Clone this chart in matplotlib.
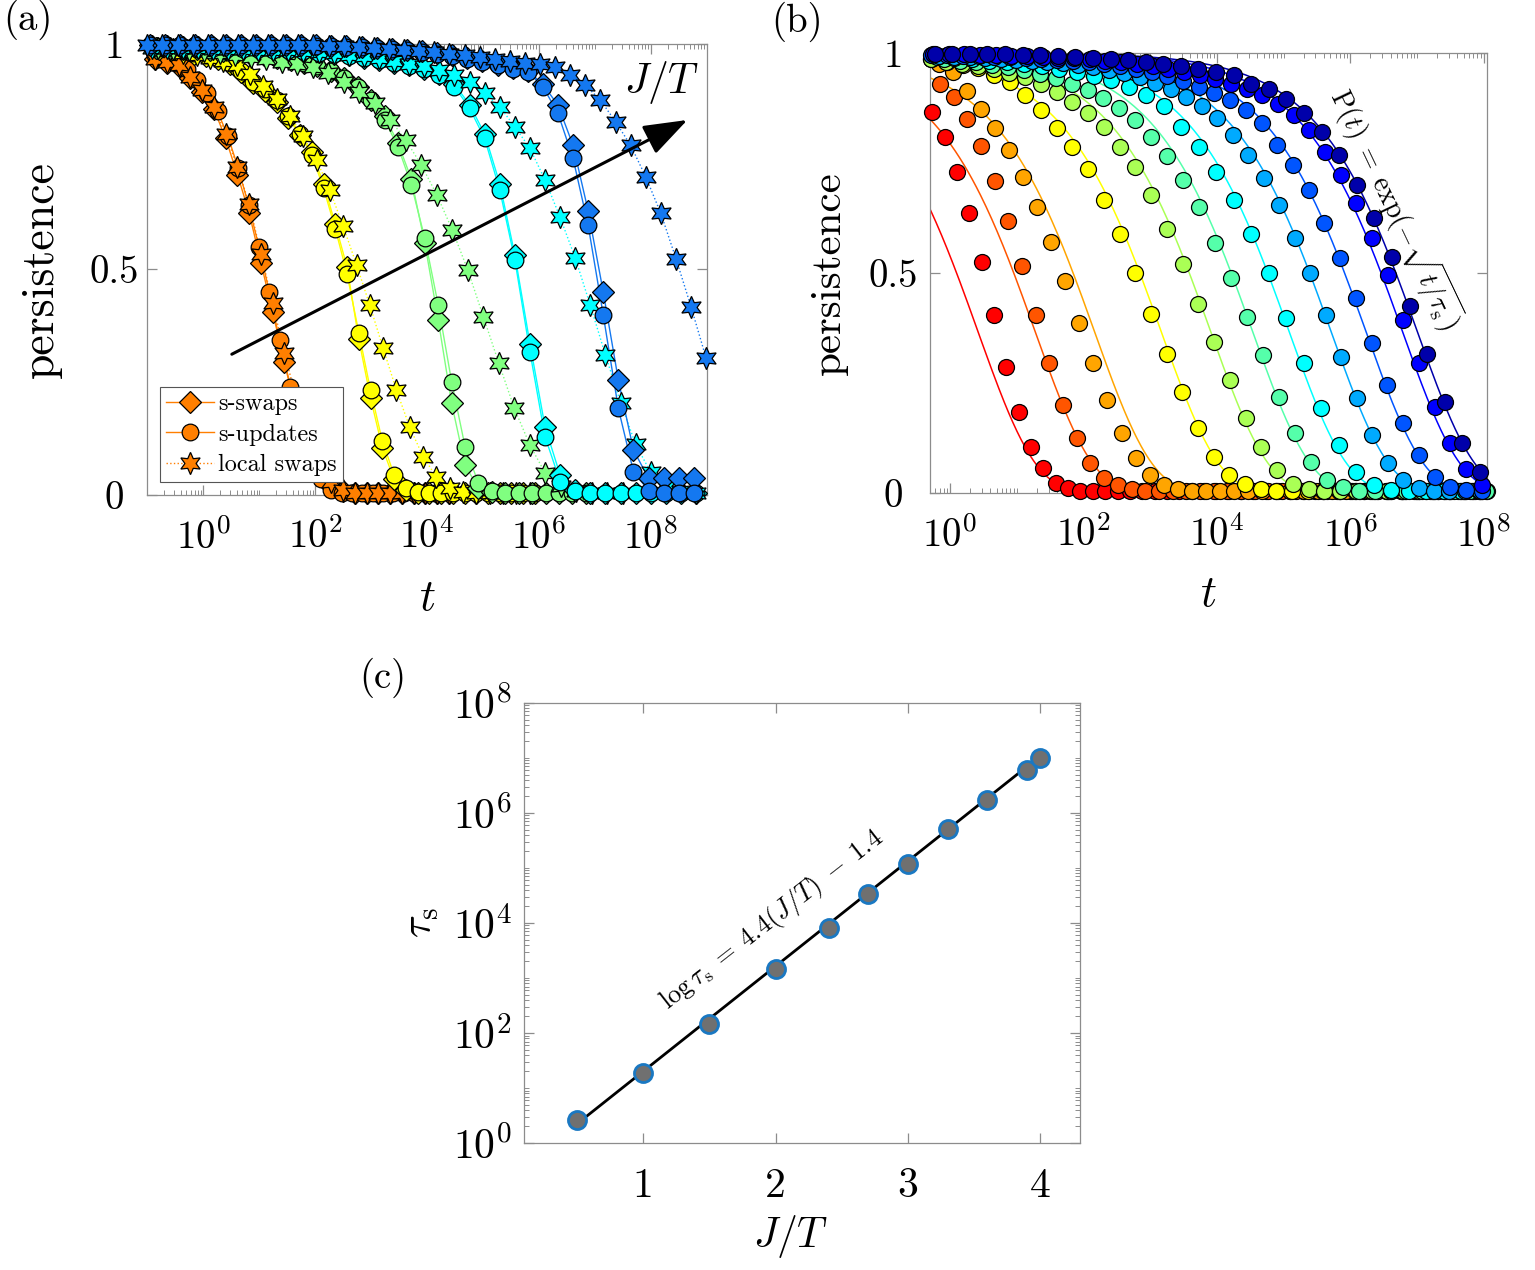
import matplotlib

matplotlib.use("Agg")
import matplotlib.pyplot as plt
import numpy as np
from matplotlib.lines import Line2D
from matplotlib.ticker import FixedLocator, FuncFormatter, LogLocator, NullFormatter

plt.rcParams.update({
    "font.family": "serif",
    "font.serif": ["cmr10", "DejaVu Serif"],
    "mathtext.fontset": "cm",
    "axes.unicode_minus": False,
    "axes.formatter.use_mathtext": True,
})

# ------------------------------------------------------------------
# (a) persistence for three update schemes, five temperatures
# ------------------------------------------------------------------
A_COLORS = ["#ff7f00", "#ffff00", "#80ff80", "#00ffff", "#1478f0"]
# first sampled log10(t) and log10 spacing of every series
A_LOGT0_SW = [-0.86, -0.79, -0.84, -0.91, -0.95]
A_DLOGT_SW = [0.21, 0.21, 0.24, 0.27, 0.27]
A_LOGT0_UP = [-0.855, -0.79, -0.84, -0.91, -0.95]
A_DLOGT_UP = [0.185, 0.21, 0.24, 0.27, 0.27]
A_LOGT0_LS = [-0.86, -0.83, -0.81, -0.91, -1.0]
A_DLOGT_LS = [0.21, 0.238, 0.277, 0.27, 0.27]

P_A_ORANGE_SW = [0.965, 0.958, 0.95, 0.924, 0.893, 0.855, 0.79, 0.71, 0.625, 0.515, 0.405,
                 0.295, 0.195, 0.115, 0.055, 0.02, 0.008] + [0.004] * 9
P_A_ORANGE_UP = [0.975, 0.968, 0.958, 0.943, 0.92, 0.89, 0.85, 0.795, 0.724, 0.642, 0.55,
                 0.45, 0.343, 0.24, 0.15, 0.08, 0.035, 0.012] + [0.005] * 10
P_A_ORANGE_LS = [0.967, 0.96, 0.953, 0.927, 0.897, 0.86, 0.80, 0.727, 0.645, 0.535, 0.425,
                 0.315, 0.215, 0.135, 0.07, 0.03, 0.012] + [0.005] * 9

P_A_YELLOW_SW = [0.988, 0.986, 0.983, 0.978, 0.973, 0.966, 0.956, 0.938, 0.912, 0.895, 0.87,
                 0.835, 0.798, 0.76, 0.69, 0.60, 0.505, 0.345, 0.215, 0.105, 0.035, 0.012,
                 0.005] + [0.004] * 10
P_A_YELLOW_UP = [0.99, 0.988, 0.985, 0.98, 0.975, 0.968, 0.958, 0.94, 0.915, 0.9, 0.875,
                 0.84, 0.80, 0.753, 0.68, 0.59, 0.49, 0.36, 0.232, 0.12, 0.045, 0.015,
                 0.006] + [0.005] * 10
P_A_YELLOW_LS = [0.99, 0.985, 0.98, 0.975, 0.968, 0.962, 0.953, 0.932, 0.907, 0.878, 0.84,
                 0.795, 0.742, 0.675, 0.595, 0.51, 0.42, 0.325, 0.232, 0.15, 0.085, 0.04,
                 0.016, 0.007] + [0.005] * 5

P_A_GREEN_SW = [0.99, 0.99, 0.989, 0.988, 0.986, 0.984, 0.981, 0.978, 0.974, 0.969, 0.963,
                0.957, 0.95, 0.94, 0.925, 0.905, 0.875, 0.84, 0.78, 0.70, 0.558, 0.388,
                0.203, 0.066, 0.015, 0.006] + [0.004] * 7
P_A_GREEN_UP = [0.99, 0.99, 0.989, 0.988, 0.986, 0.984, 0.981, 0.978, 0.974, 0.969, 0.963,
                0.957, 0.95, 0.94, 0.925, 0.905, 0.875, 0.831, 0.772, 0.687, 0.569, 0.421,
                0.251, 0.107, 0.026, 0.008] + [0.005] * 7
P_A_GREEN_LS = [0.99, 0.988, 0.986, 0.983, 0.979, 0.975, 0.97, 0.965, 0.96, 0.955, 0.949,
                0.934, 0.916, 0.893, 0.868, 0.831, 0.786, 0.731, 0.665, 0.587, 0.498, 0.395,
                0.292, 0.192, 0.111, 0.048, 0.02, 0.008] + [0.005] * 3

P_A_CYAN_SW = [0.994, 0.994, 0.993, 0.993, 0.992, 0.991, 0.99, 0.989, 0.988, 0.986, 0.984,
               0.981, 0.978, 0.974, 0.969, 0.964, 0.958, 0.952, 0.945, 0.932, 0.91, 0.865,
               0.80, 0.69, 0.532, 0.335, 0.151, 0.044, 0.012] + [0.005] * 8
P_A_CYAN_UP = [0.993, 0.993, 0.992, 0.992, 0.991, 0.99, 0.989, 0.988, 0.987, 0.985, 0.983,
               0.98, 0.977, 0.973, 0.968, 0.963, 0.957, 0.95, 0.943, 0.93, 0.905, 0.857,
               0.79, 0.676, 0.521, 0.317, 0.129, 0.03, 0.008] + [0.005] * 8
P_A_CYAN_LS = [0.99, 0.99, 0.99, 0.99, 0.989, 0.989, 0.988, 0.987, 0.986, 0.985, 0.983,
               0.981, 0.979, 0.976, 0.972, 0.968, 0.962, 0.956, 0.95, 0.942, 0.93, 0.916,
               0.89, 0.86, 0.816, 0.768, 0.698, 0.615, 0.525, 0.42, 0.31, 0.205, 0.112,
               0.05, 0.02, 0.008, 0.005]

P_A_BLUE_SW = [0.998] * 10 + [0.997, 0.996, 0.995, 0.994, 0.993, 0.991, 0.989, 0.986, 0.983,
                              0.979, 0.974, 0.968, 0.961, 0.953, 0.946, 0.94, 0.91, 0.864,
                              0.775, 0.63, 0.45, 0.255, 0.10, 0.037, 0.037, 0.037, 0.037]
P_A_BLUE_UP = [0.998] * 8 + [0.997, 0.997, 0.996, 0.995, 0.994, 0.993, 0.992, 0.99, 0.988,
                             0.985, 0.982, 0.978, 0.973, 0.967, 0.96, 0.952, 0.945, 0.938,
                             0.905, 0.846, 0.746, 0.598, 0.399, 0.192, 0.052, 0.01, 0.005,
                             0.005, 0.005]
P_A_BLUE_LS = [0.998] * 10 + [0.997, 0.996, 0.995, 0.994, 0.993, 0.991, 0.989, 0.987, 0.984,
                              0.981, 0.978, 0.974, 0.97, 0.966, 0.962, 0.958, 0.954, 0.949,
                              0.93, 0.908, 0.875, 0.827, 0.775, 0.705, 0.624, 0.524, 0.417,
                              0.303]

A_SW = [P_A_ORANGE_SW, P_A_YELLOW_SW, P_A_GREEN_SW, P_A_CYAN_SW, P_A_BLUE_SW]
A_UP = [P_A_ORANGE_UP, P_A_YELLOW_UP, P_A_GREEN_UP, P_A_CYAN_UP, P_A_BLUE_UP]
A_LS = [P_A_ORANGE_LS, P_A_YELLOW_LS, P_A_GREEN_LS, P_A_CYAN_LS, P_A_BLUE_LS]
A_LABELS = ["s-swaps", "s-updates", "local swaps"]

# ------------------------------------------------------------------
# (b) s-updates persistence for eleven J/T values
# ------------------------------------------------------------------
JT = [0.5, 1.0, 1.5, 2.0, 2.4, 2.7, 3.0, 3.3, 3.6, 3.9, 4.0]
B_COLORS = ["#ff0000", "#ff5500", "#ffa500", "#ffff00", "#aaff55", "#55ffaa",
            "#00ffff", "#00aaff", "#0055ff", "#0000ff", "#0000aa"]
B_LOGT0 = [-0.265, -0.15, -0.16, -0.28, -0.29, -0.09, -0.2, -0.17, -0.28, -0.255, -0.23]
B_DLOGT = [0.185, 0.205, 0.21, 0.235, 0.236, 0.239, 0.262, 0.232, 0.2357, 0.235, 0.2636]

P_B_05 = [0.866, 0.808, 0.73, 0.635, 0.525, 0.404, 0.286, 0.184, 0.103, 0.057, 0.023,
          0.01] + [0.004] * 33
P_B_10 = [0.93, 0.90, 0.85, 0.788, 0.708, 0.617, 0.515, 0.405, 0.295, 0.20, 0.124, 0.067,
          0.033, 0.017, 0.008] + [0.004] * 26
P_B_15 = [0.975, 0.957, 0.912, 0.872, 0.83, 0.78, 0.718, 0.649, 0.569, 0.482, 0.385, 0.294,
          0.21, 0.135, 0.078, 0.04, 0.018, 0.008] + [0.004] * 21
P_B_20 = [0.985, 0.978, 0.972, 0.965, 0.95, 0.934, 0.904, 0.87, 0.83, 0.786, 0.735, 0.665,
          0.587, 0.50, 0.406, 0.315, 0.228, 0.148, 0.082, 0.04, 0.02, 0.009] + [0.004] * 14
P_B_24 = [0.985, 0.98, 0.975, 0.97, 0.963, 0.955, 0.945, 0.93, 0.911, 0.889, 0.862, 0.832,
          0.786, 0.741, 0.677, 0.60, 0.519, 0.43, 0.343, 0.256, 0.169, 0.105, 0.052, 0.021,
          0.009] + [0.004] * 11
P_B_27 = [0.985, 0.982, 0.978, 0.973, 0.967, 0.96, 0.952, 0.942, 0.93, 0.915, 0.896, 0.875,
          0.848, 0.809, 0.765, 0.711, 0.65, 0.567, 0.487, 0.40, 0.313, 0.218, 0.135, 0.07,
          0.029, 0.012] + [0.004] * 9
P_B_30 = [0.99, 0.988, 0.985, 0.982, 0.978, 0.974, 0.97, 0.964, 0.957, 0.948, 0.937, 0.922,
          0.903, 0.878, 0.832, 0.786, 0.73, 0.665, 0.588, 0.499, 0.396, 0.294, 0.192, 0.108,
          0.048, 0.018, 0.007] + [0.004] * 5
P_B_33 = [0.992, 0.991, 0.99, 0.988, 0.986, 0.984, 0.982, 0.979, 0.976, 0.972, 0.967, 0.961,
          0.953, 0.944, 0.932, 0.918, 0.9, 0.878, 0.851, 0.813, 0.767, 0.715, 0.654, 0.578,
          0.50, 0.404, 0.309, 0.215, 0.131, 0.067, 0.03, 0.011, 0.005] + [0.004] * 3
P_B_36 = [0.995, 0.994, 0.993, 0.992, 0.991, 0.99, 0.988, 0.986, 0.984, 0.981, 0.978, 0.974,
          0.969, 0.963, 0.956, 0.947, 0.936, 0.922, 0.908, 0.892, 0.87, 0.84, 0.79, 0.745,
          0.688, 0.612, 0.533, 0.442, 0.34, 0.245, 0.158, 0.086, 0.036, 0.014, 0.006, 0.004]
P_B_39 = [0.997, 0.996, 0.996, 0.995, 0.994, 0.993, 0.992, 0.991, 0.989, 0.987, 0.985, 0.982,
          0.979, 0.975, 0.97, 0.964, 0.957, 0.949, 0.94, 0.929, 0.917, 0.903, 0.883, 0.858,
          0.824, 0.775, 0.722, 0.658, 0.578, 0.495, 0.392, 0.294, 0.195, 0.114, 0.053, 0.017]
P_B_40 = [0.998, 0.998, 0.997, 0.997, 0.996, 0.995, 0.994, 0.993, 0.991, 0.989, 0.986, 0.983,
          0.979, 0.975, 0.97, 0.964, 0.957, 0.949, 0.93, 0.917, 0.894, 0.864, 0.82, 0.767,
          0.70, 0.624, 0.536, 0.424, 0.315, 0.207, 0.112, 0.048]
B_P = [P_B_05, P_B_10, P_B_15, P_B_20, P_B_24, P_B_27, P_B_30, P_B_33, P_B_36, P_B_39, P_B_40]

# ------------------------------------------------------------------
# (c) fitted relaxation times and the linear fit of ln(tau_s)
# ------------------------------------------------------------------
TAU_S = [2.6, 18.7, 145, 1450, 8000, 3.4e4, 1.2e5, 5.1e5, 1.7e6, 6.0e6, 1.0e7]
FIT_SLOPE, FIT_INTERCEPT = 4.4, -1.4
FIT_JT = [0.5, 4.0]

GRID = "#8c8c8c"


def style(ax):
    for s in ax.spines.values():
        s.set_color(GRID)
        s.set_linewidth(0.9)
    ax.tick_params(which="both", direction="in", top=True, right=True, color=GRID)
    ax.tick_params(which="major", length=7, width=0.9)
    ax.tick_params(which="minor", length=3.5, width=0.7)


def log_label(v, pos):
    return r"$10^{%d}$" % int(round(np.log10(v)))


def log_xaxis(ax, majors):
    ax.set_xscale("log")
    ax.xaxis.set_major_locator(FixedLocator(majors))
    ax.xaxis.set_major_formatter(FuncFormatter(log_label))
    ax.xaxis.set_minor_locator(LogLocator(base=10, subs=np.arange(1, 10), numticks=100))
    ax.xaxis.set_minor_formatter(NullFormatter())


def persistence_yaxis(ax, ypad):
    ax.set_ylim(0, 1)
    ax.set_yticks([0, 0.5, 1])
    ax.set_yticklabels(["0", "0.5", "1"])
    ax.tick_params(axis="both", labelsize=28)
    ax.tick_params(axis="y", pad=ypad)
    ax.tick_params(axis="x", pad=17)
    plt.setp(ax.get_yticklabels(), ha="center")


fig = plt.figure(figsize=(15.35, 12.7), dpi=100)

# ---------------- panel (a) ----------------
ax_a = fig.add_axes([0.0960, 0.6102, 0.3644, 0.3554])
style(ax_a)
groups = [
    (A_SW, A_LOGT0_SW, A_DLOGT_SW, "D", 11, "-"),
    (A_UP, A_LOGT0_UP, A_DLOGT_UP, "o", 12, "-"),
    (A_LS, A_LOGT0_LS, A_DLOGT_LS, (6, 1, 0), 16, ":"),
]
for c, color in enumerate(A_COLORS):
    for series, t0, dt, marker, ms, ls in groups:
        p = np.array(series[c])
        t = 10 ** (t0[c] + dt[c] * np.arange(len(p)))
        ax_a.plot(t, p, color=color, lw=1.0, ls=ls, zorder=2)
        ax_a.plot(t, p, ls="none", marker=marker, ms=ms, mfc=color, mec="k", mew=0.9,
                  clip_on=False, zorder=3)
ax_a.set_xlim(1e-1, 1e9)
log_xaxis(ax_a, [1e0, 1e2, 1e4, 1e6, 1e8])
persistence_yaxis(ax_a, 24)
ax_a.set_ylabel("persistence", fontsize=33)
ax_a.yaxis.set_label_coords(-0.152, 0.5)
ax_a.set_xlabel(r"$t$", fontsize=32)
ax_a.xaxis.set_label_coords(0.5, -0.185)

ax_a.annotate("", xy=(10 ** 8.655, 0.831), xytext=(10 ** 0.51, 0.312),
              arrowprops=dict(arrowstyle="-|>,head_length=0.9,head_width=0.32",
                              mutation_scale=30, lw=2.2, color="k", shrinkA=0, shrinkB=0),
              zorder=5)
ax_a.text(10 ** 8.19, 0.915, r"$J/T$", fontsize=30, ha="center", va="center")

handles = [Line2D([], [], color=A_COLORS[0], lw=1.0, ls=ls, marker=m, ms=ms,
                  mfc=A_COLORS[0], mec="k", mew=0.9)
           for _, _, _, m, ms, ls in groups]
leg = ax_a.legend(handles, A_LABELS, loc="lower left", bbox_to_anchor=(0.022, 0.028),
                  fontsize=17.5, frameon=True, fancybox=False, framealpha=1,
                  edgecolor="#555555", handlelength=2.0, handletextpad=0.15,
                  labelspacing=0.35, borderpad=0.25, borderaxespad=0)
leg.get_frame().set_linewidth(0.8)
leg.set_zorder(6)

# ---------------- panel (b) ----------------
ax_b = fig.add_axes([0.6061, 0.6120, 0.3627, 0.3465])
style(ax_b)
xlim_b = (10 ** -0.295, 10 ** 8.05)
t_fit = np.logspace(np.log10(xlim_b[0]), np.log10(xlim_b[1]), 400)
for color, tau, t0, dt, series in zip(B_COLORS, TAU_S, B_LOGT0, B_DLOGT, B_P):
    p = np.array(series)
    t = 10 ** (t0 + dt * np.arange(len(p)))
    ax_b.plot(t_fit, np.exp(-np.sqrt(t_fit / tau)), color=color, lw=1.1, zorder=2)
    ax_b.plot(t, p, ls="none", marker="o", ms=11.5, mfc=color, mec="k", mew=0.9,
              clip_on=False, zorder=3)
ax_b.set_xlim(*xlim_b)
log_xaxis(ax_b, [1e0, 1e2, 1e4, 1e6, 1e8])
persistence_yaxis(ax_b, 27)
ax_b.set_ylabel("persistence", fontsize=31)
ax_b.yaxis.set_label_coords(-0.148, 0.5)
ax_b.set_xlabel(r"$t$", fontsize=32)
ax_b.xaxis.set_label_coords(0.5, -0.187)
ax_b.text(10 ** 6.69, 0.645,
          r"$\mathrm{P}(t)\;=\;\mathrm{exp}(-\sqrt{t/\tau_\mathrm{s}})$",
          fontsize=20, rotation=-64.5, ha="center", va="center", rotation_mode="anchor",
          zorder=6)

# ---------------- panel (c) ----------------
ax_c = fig.add_axes([0.3414, 0.1000, 0.3622, 0.3465])
style(ax_c)
jt_fit = np.array(FIT_JT)
ax_c.plot(jt_fit, np.exp(FIT_SLOPE * jt_fit + FIT_INTERCEPT), color="k", lw=2.0, zorder=2)
ax_c.plot(JT, TAU_S, ls="none", marker="o", ms=13, mfc="#707070", mec="#1a78c2", mew=2.0,
          zorder=3, clip_on=False)
ax_c.set_yscale("log")
ax_c.set_xlim(0.1, 4.3)
ax_c.set_ylim(1, 1e8)
ax_c.set_xticks([1, 2, 3, 4])
ax_c.set_xticklabels(["1", "2", "3", "4"])
ax_c.yaxis.set_major_locator(FixedLocator([1e0, 1e2, 1e4, 1e6, 1e8]))
ax_c.yaxis.set_major_formatter(FuncFormatter(log_label))
ax_c.yaxis.set_minor_locator(LogLocator(base=10, subs=np.arange(1, 10), numticks=100))
ax_c.yaxis.set_minor_formatter(NullFormatter())
ax_c.tick_params(axis="both", labelsize=30)
ax_c.tick_params(axis="x", pad=18)
ax_c.tick_params(axis="y", pad=30)
plt.setp(ax_c.get_yticklabels(), ha="center")
ax_c.set_ylabel(r"$\tau_\mathrm{s}$", fontsize=30)
ax_c.yaxis.set_label_coords(-0.15, 0.5)
ax_c.set_xlabel(r"$J/T$", fontsize=30)
ax_c.xaxis.set_label_coords(0.48, -0.16)
ax_c.text(1.97, 10 ** 4.05, r"$\log\tau_\mathrm{s}\;=\;4.4(J/T)\;-\;1.4$", fontsize=19,
          rotation=38, ha="center", va="center", rotation_mode="anchor")

# panel tags
fig.text(0.002, 0.984, "(a)", fontsize=28, ha="left", va="center")
fig.text(0.519, 0.983, "(b)", fontsize=28, ha="center", va="center")
fig.text(0.2495, 0.466, "(c)", fontsize=28, ha="center", va="center")

fig.savefig("out.png", dpi=100)
